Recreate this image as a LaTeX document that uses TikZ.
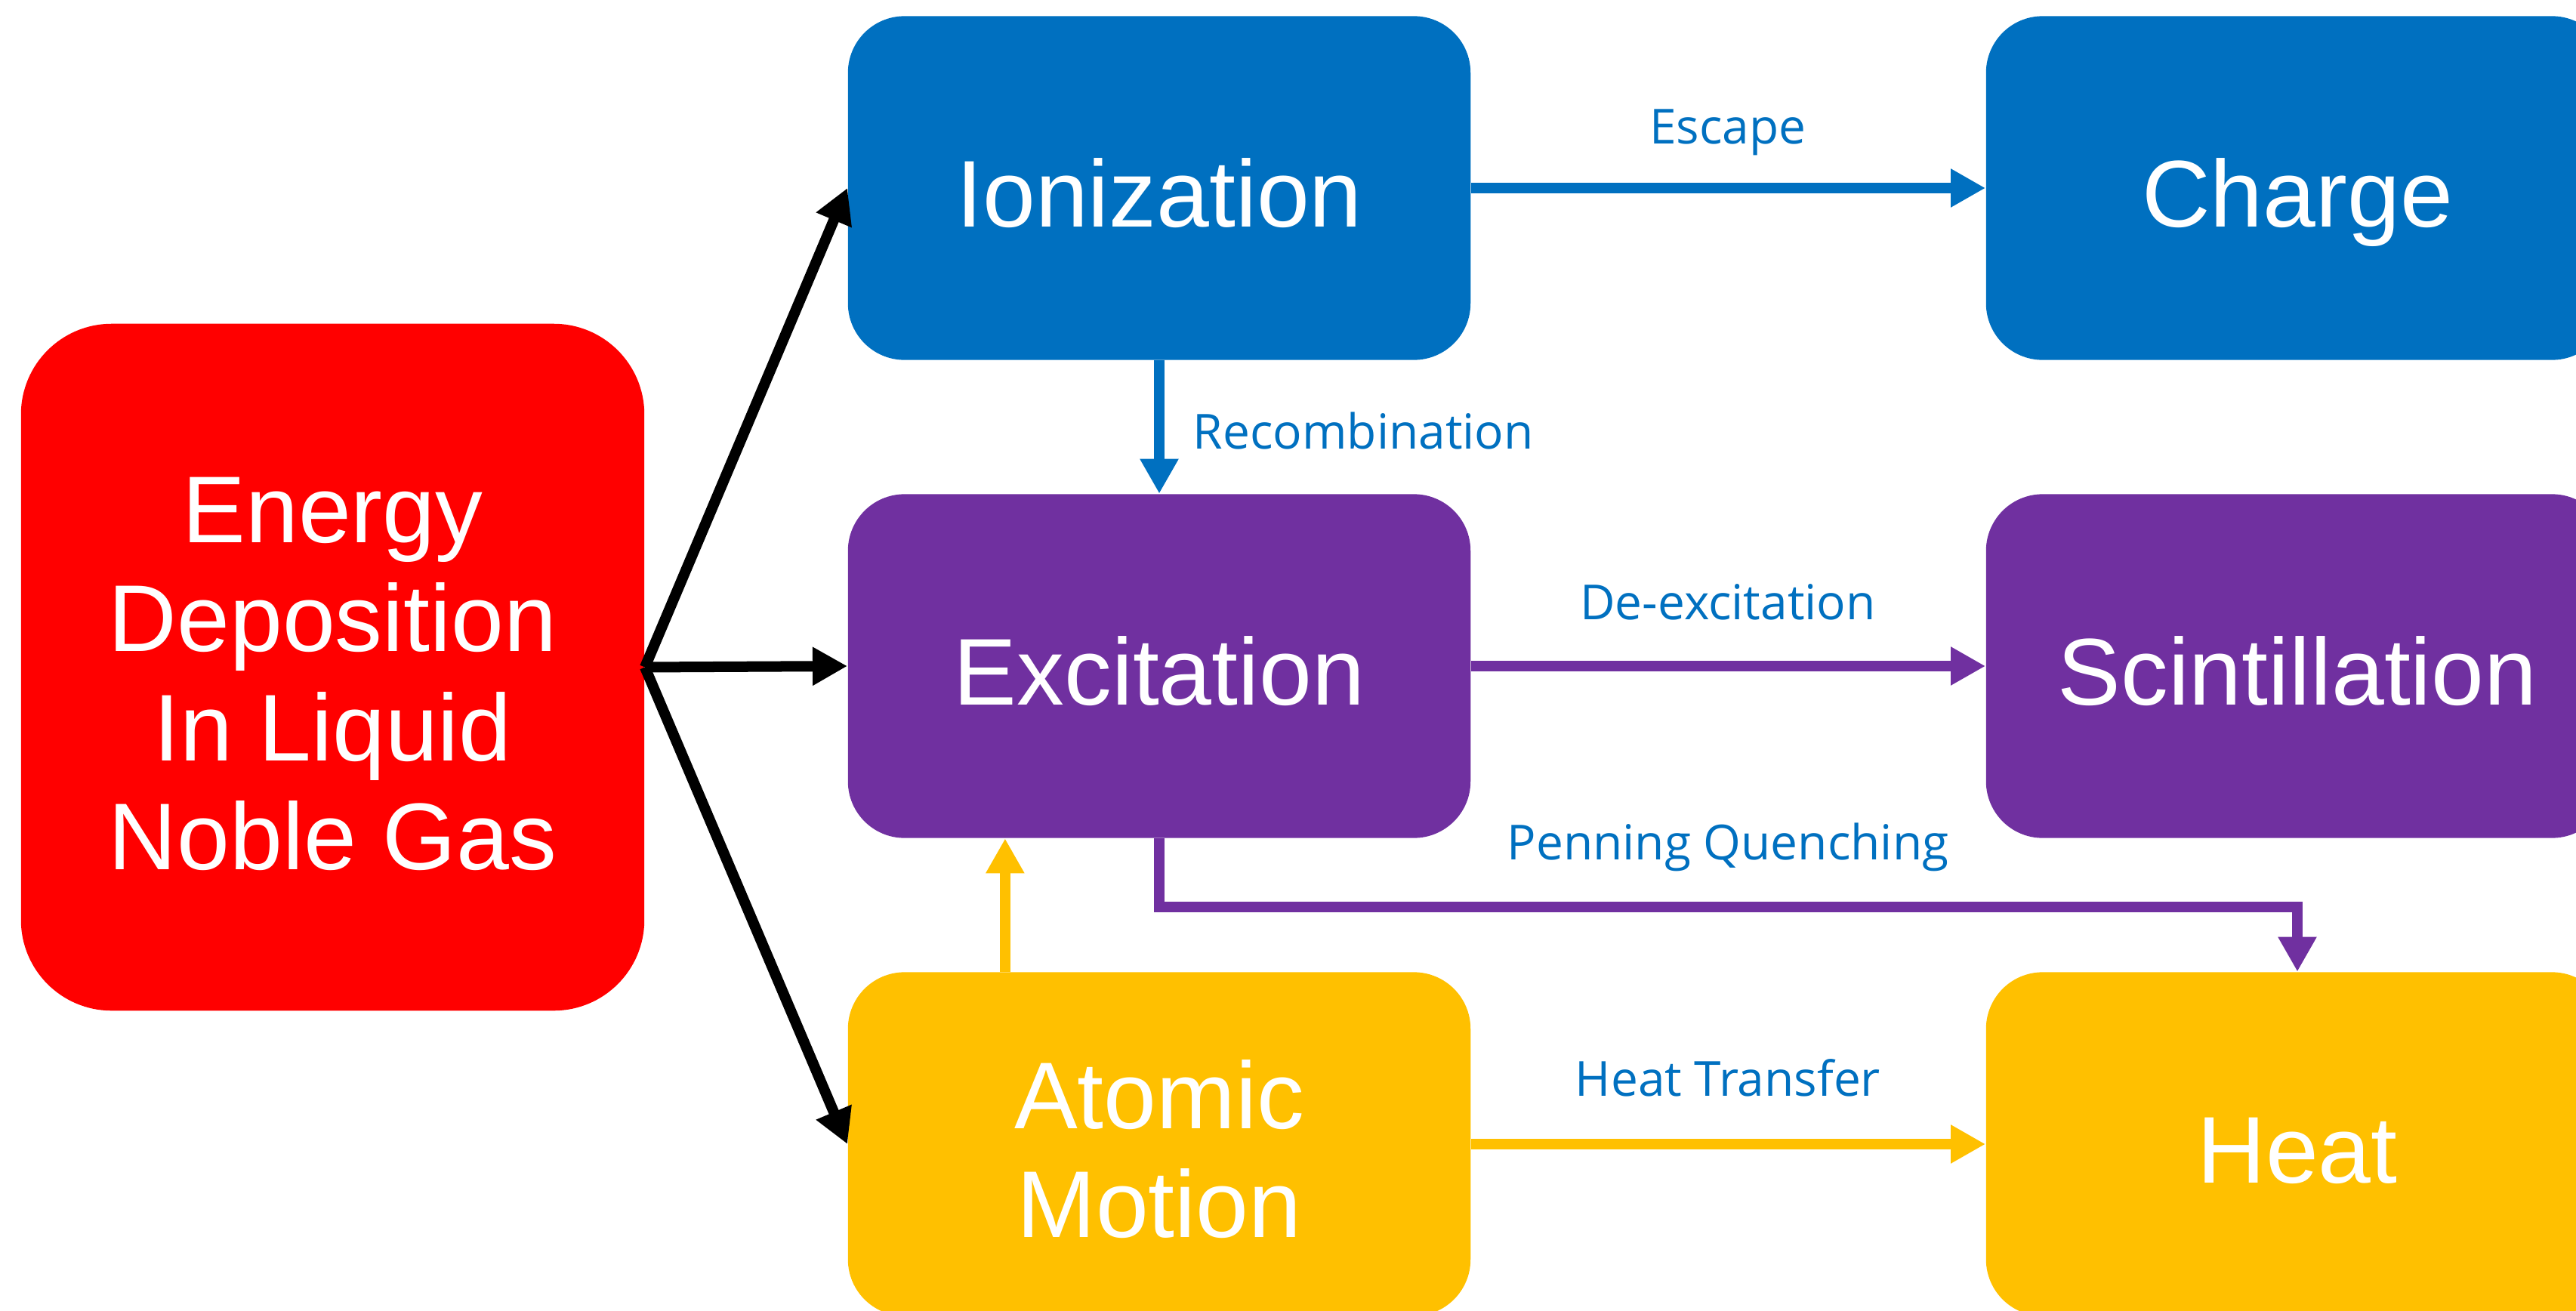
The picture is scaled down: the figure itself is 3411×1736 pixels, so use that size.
\documentclass[tikz,border=0pt]{standalone}
\usepackage{fontspec}
\setmainfont{Liberation Sans}
\newfontfamily\labelfont{Open Sans}
\usetikzlibrary{arrows.meta}

\definecolor{ionblue}{HTML}{0070C0}
\definecolor{excpurple}{HTML}{7030A0}
\definecolor{heatamber}{HTML}{FFC000}
\definecolor{depored}{HTML}{FF0000}

% invisible struts that give every box the same text baseline
\newcommand\capup{\rule{0pt}{37.3pt}}
\newcommand\capdown{\rule[-8pt]{0pt}{8pt}}

\tikzset{
  stagebox/.style={rounded corners=0.75cm, minimum width=8.24cm, minimum height=4.55cm,
    inner sep=0pt, text=white, align=center, font=\fontsize{35.7}{41}\selectfont},
  sourcebox/.style={rounded corners=1.2cm, minimum width=8.25cm, minimum height=9.09cm,
    inner sep=0pt, text=white, align=center, font=\fontsize{35.7}{41}\selectfont, fill=depored},
  flow/.style={line width=0.14cm, line join=miter,
    -{Triangle[length=0.46cm,width=0.48cm]}},
  lbl/.style={inner sep=0pt, text=ionblue, font=\labelfont\fontsize{18.2}{22}\selectfont}
}

\begin{document}
\begin{tikzpicture}[x=0.01cm, y=-0.01cm]
  \useasboundingbox (0,0) rectangle (3411,1736);
  \clip (0,0) rectangle (3411,1736);

  % source of the energy
  \node[sourcebox] (depo) at (440.5,883.5)
    {\capup Energy\\Deposition\\In Liquid\\Noble Gas\capdown};

  % primary channels
  \node[stagebox, fill=ionblue]    (ion)  at (1535,249)  {\capup\capdown Ionization};
  \node[stagebox, fill=excpurple]  (exc)  at (1535,882)  {\capup\capdown Excitation};
  \node[stagebox, fill=heatamber]  (atom) at (1535,1515) {\capup Atomic\\Motion\capdown};

  % observable outcomes
  \node[stagebox, fill=ionblue]    (charge) at (3042,249)  {\capup\capdown Charge};
  \node[stagebox, fill=excpurple]  (scint)  at (3042,882)  {\capup\capdown Scintillation};
  \node[stagebox, fill=heatamber]  (heat)   at (3042,1515) {\capup\capdown Heat};

  % energy partition
  \draw[flow, black] (depo.east) -- (ion.west);
  \draw[flow, black] (depo.east) -- (exc.west);
  \draw[flow, black] (depo.east) -- (atom.west);

  % processes between stages
  \draw[flow, ionblue] (ion.east) -- (charge.west);
  \draw[flow, ionblue] (ion.south) -- (exc.north);
  \draw[flow, excpurple] (exc.east) -- (scint.west);
  \draw[flow, excpurple] (exc.south) -- ++(0,91) -| (heat.north);
  \draw[flow, heatamber] ([xshift=-2.04cm]atom.north) -- ([xshift=-2.04cm]exc.south);
  \draw[flow, heatamber] (atom.east) -- (heat.west);

  % process labels
  \node[lbl, anchor=base]      (escape)  at (2288,190)  {Escape};
  \node[lbl, anchor=base west] (recomb)  at (1579,594)  {Recombination};
  \node[lbl, anchor=base]      (deexc)   at (2288,820)  {De-excitation};
  \node[lbl, anchor=base]      (penning) at (2288,1138) {Penning Quenching};
  \node[lbl, anchor=base]      (htrans)  at (2288,1451) {Heat Transfer};
\end{tikzpicture}
\end{document}
